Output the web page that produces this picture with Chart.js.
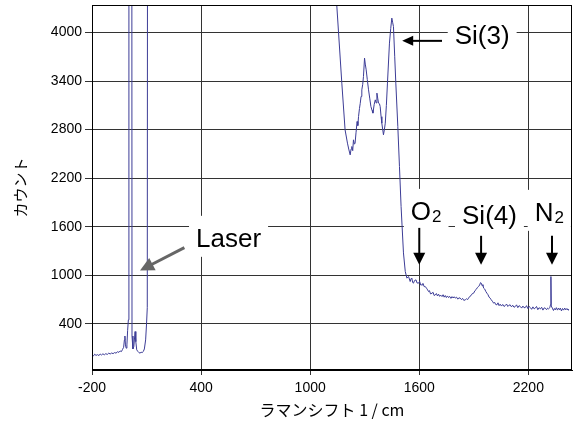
<!DOCTYPE html>
<html><head><meta charset="utf-8">
<script src="https://cdn.jsdelivr.net/npm/chart.js@4.4.1/dist/chart.umd.min.js"></script>
<style>html,body{margin:0;padding:0;background:#fff;}canvas{display:block}</style>
</head><body>
<canvas id="c" width="577" height="428"></canvas>
<script>
// ---- axis ticks ----
const xTicks = [-200, 400, 1000, 1600, 2200];
const yTicks = [400, 1000, 1600, 2200, 2800, 3400, 4000];

// ---- spectrum (Raman shift 1/cm, counts) ----
const laserShift  = [-200,-192,-185,-178,-170,-162,-155,-148,-140,-132,-124,-116,-108,-100,-92,-84,-76,-68,-60,-52,-45,-38,-32,-26,-22,-19,-16,-12,-8,-4,0,3,15,20,25,30,37,41,46,52,58,64,70,76,82,88,95,100,104,112,600];
const laserCounts = [15,5,25,10,20,8,28,15,30,18,32,22,38,28,40,32,45,38,55,48,65,58,85,110,200,250,140,100,140,320,450,30000,30000,250,90,120,305,180,79,60,45,38,50,45,58,90,202,400,600,30000,20000];

const siliconShift  = [1130,1174,1192,1205,1212,1220,1225,1229,1234,1238,1243,1247,1252,1258,1262,1266,1271,1275,1280,1284,1289,1293,1299,1303,1308,1314,1321,1328,1334,1340,1345,1352,1358,1363,1367,1372,1376,1381,1385,1390,1394,1403,1408,1413,1419,1425,1436,1443,1449,1454,1458,1465,1471,1482,1491,1500,1513,1523,1532];
const siliconCounts = [4900,3375,2797,2633,2560,2488,2560,2591,2540,2674,2620,2633,2760,2900,2850,2962,3060,3120,3210,3292,3360,3456,3684,3610,3539,3420,3292,3180,3085,3040,3004,3110,3168,3130,3251,3180,3127,3120,3085,2960,2880,2736,2800,2880,3100,3375,3869,4050,4178,4120,4074,3700,3375,2838,2344,1850,1277,1046,965];

const tailShift  = [1541,1550,1555,1559,1564,1568,1574,1582,1588,1596,1602,1608,1615,1620,1627,1633,1640,1646,1651,1656,1662,1670,1676,1682,1688,1694,1700,1706,1712,1718,1725,1731,1737,1743,1749,1755,1761,1767,1774,1780,1786,1792,1798,1805,1812,1818,1825,1832,1838,1845,1853,1860,1866,1871,1878,1885,1892,1899,1906,1913,1920,1926,1932,1937,1941,1946,1950,1954,1960,1966,1972,1978,1984,1990,1995,2002,2009,2015,2020,2027,2033,2039,2045,2052,2059,2066,2073,2080,2087,2093,2100,2107,2114,2121,2128,2135,2142,2149,2156,2163,2170,2176,2183,2190,2197,2204,2211,2218,2225,2232,2238,2245,2252,2259,2266,2273,2280,2287,2293,2300,2306,2311,2318,2322,2324,2326,2332,2338,2343,2348,2354,2360,2366,2371,2376,2382,2388,2394,2400,2406,2412,2418,2421];
const tailCounts = [985,923,960,965,910,903,935,944,905,903,925,880,882,900,860,861,840,820,799,810,770,779,790,750,758,775,745,767,740,755,737,760,730,750,725,745,725,740,715,737,720,735,718,730,705,722,718,700,715,690,697,710,700,718,740,750,775,779,810,825,850,861,880,910,903,870,885,841,830,800,779,760,730,718,700,680,656,665,640,635,660,625,643,620,640,615,626,645,615,630,635,610,630,605,614,635,600,625,614,595,620,600,601,625,590,615,601,580,610,585,594,615,575,600,585,605,570,598,594,575,595,585,600,640,985,620,594,565,590,573,600,570,595,575,594,560,590,570,595,573,590,570,582];

// ---- annotations (data coordinates) ----
const peakLabels = [
  {main:'Laser', sub:'',  cx:551,  base:1352},
  {main:'Si(3)', sub:'',  cx:1946, base:3860},
  {main:'O',     sub:'2', cx:1638, base:1685},
  {main:'Si(4)', sub:'',  cx:1986, base:1640},
  {main:'N',     sub:'2', cx:2315, base:1673}
];
const peakArrows = [
  {x1:308,  y1:1343, x2:64,   y2:1059, color:'#666666', w:3,   head:14, half:7},
  {x1:1725, y1:3897, x2:1506, y2:3897, color:'#000000', w:2,   head:11, half:5},
  {x1:1600, y1:1586, x2:1600, y2:1129, color:'#000000', w:2,   head:12, half:6},
  {x1:1940, y1:1488, x2:1940, y2:1129, color:'#000000', w:2,   head:12, half:6},
  {x1:2330, y1:1488, x2:2330, y2:1129, color:'#000000', w:2,   head:12, half:6}
];

const points = [];
[[laserShift,laserCounts],[siliconShift,siliconCounts],[tailShift,tailCounts]].forEach(([xs,ys])=>{
  xs.forEach((v,i)=>points.push({x:v,y:ys[i]}));
});

const MAIN_FONT = '26px "Liberation Sans", Arial, sans-serif';
const SUB_FONT = '17px "Liberation Sans", Arial, sans-serif';

function labelGeom(ctx, L, xs, ys){
  ctx.font = MAIN_FONT; const wm = ctx.measureText(L.main).width;
  ctx.font = SUB_FONT; const ws = L.sub ? ctx.measureText(L.sub).width + 1 : 0;
  const w = wm + ws;
  const cx = xs.getPixelForValue(L.cx), by = ys.getPixelForValue(L.base);
  return {left: cx - w/2, wm, ws, w, by};
}

const annot = {
  id:'annot',
  beforeDatasetsDraw(chart){
    const {ctx, scales:{x, y}} = chart;
    ctx.save();
    ctx.fillStyle = '#ffffff';
    peakLabels.forEach(L=>{
      const g = labelGeom(ctx, L, x, y);
      ctx.fillRect(g.left - 7, g.by - 31, g.w + 14, 41);
    });
    ctx.restore();
  },
  afterDatasetsDraw(chart){
    const {ctx, scales:{x, y}, chartArea:a} = chart;
    ctx.save();
    ctx.strokeStyle = '#000'; ctx.lineWidth = 1;
    ctx.strokeRect(a.left + 0.5, a.top + 0.5, a.right - a.left - 1, a.bottom - a.top - 1);
    ctx.fillStyle = '#000'; ctx.textBaseline = 'alphabetic'; ctx.textAlign = 'left';
    peakLabels.forEach(L=>{
      const g = labelGeom(ctx, L, x, y);
      ctx.font = MAIN_FONT; ctx.fillText(L.main, g.left, g.by);
      if (L.sub){ ctx.font = SUB_FONT; ctx.fillText(L.sub, g.left + g.wm + 1, g.by + 2); }
    });
    peakArrows.forEach(A=>{
      const x1 = x.getPixelForValue(A.x1), y1 = y.getPixelForValue(A.y1);
      const x2 = x.getPixelForValue(A.x2), y2 = y.getPixelForValue(A.y2);
      const ang = Math.atan2(y2 - y1, x2 - x1);
      const bx = x2 - A.head*Math.cos(ang), by = y2 - A.head*Math.sin(ang);
      ctx.strokeStyle = A.color; ctx.fillStyle = A.color; ctx.lineWidth = A.w;
      ctx.beginPath(); ctx.moveTo(x1, y1); ctx.lineTo(bx + 2*Math.cos(ang), by + 2*Math.sin(ang)); ctx.stroke();
      ctx.beginPath();
      ctx.moveTo(x2, y2);
      ctx.lineTo(bx + A.half*Math.sin(ang), by - A.half*Math.cos(ang));
      ctx.lineTo(bx - A.half*Math.sin(ang), by + A.half*Math.cos(ang));
      ctx.closePath(); ctx.fill();
    });
    ctx.restore();
  }
};

const tickFont = {family:'"Liberation Sans", Arial, sans-serif', size:14};
const plain = v => String(v);
new Chart(document.getElementById('c'), {
  type:'scatter',
  data:{datasets:[{data:points, showLine:true, borderColor:'#3c3c96', borderWidth:1, pointRadius:0, tension:0, fill:false}]},
  options:{
    responsive:false, animation:false,
    layout:{padding:{top:5, right:5, left:0, bottom:0}},
    plugins:{legend:{display:false}, tooltip:{enabled:false}},
    scales:{
      x:{type:'linear', min:-200, max:2440,
        afterBuildTicks:s=>{s.ticks = xTicks.map(v=>({value:v}));},
        afterFit:s=>{s.height = 58; s.paddingLeft = 0; s.paddingRight = 0;},
        ticks:{color:'#000', font:tickFont, padding:5, maxRotation:0, autoSkip:false, callback:plain},
        grid:{color:'#333', lineWidth:1, tickLength:5, drawTicks:true},
        border:{color:'#000', width:1},
        title:{display:true, text:'ラマンシフト 1 / cm', color:'#000', font:{family:'"Noto Sans CJK JP", sans-serif', size:16}, padding:{top:0, bottom:8}}
      },
      y:{type:'linear', min:-170, max:4340,
        afterBuildTicks:s=>{s.ticks = yTicks.map(v=>({value:v}));},
        afterFit:s=>{s.width = 92; s.paddingTop = 0; s.paddingBottom = 0;},
        ticks:{color:'#000', font:tickFont, padding:3, autoSkip:false, callback:plain},
        grid:{color:'#333', lineWidth:1, tickLength:7, drawTicks:true},
        border:{color:'#000', width:1},
        title:{display:true, text:'カウント', color:'#000', font:{family:'"Noto Sans CJK JP", sans-serif', size:15}, padding:{top:11, bottom:0}}
      }
    }
  },
  plugins:[annot]
});
</script>
</body></html>
